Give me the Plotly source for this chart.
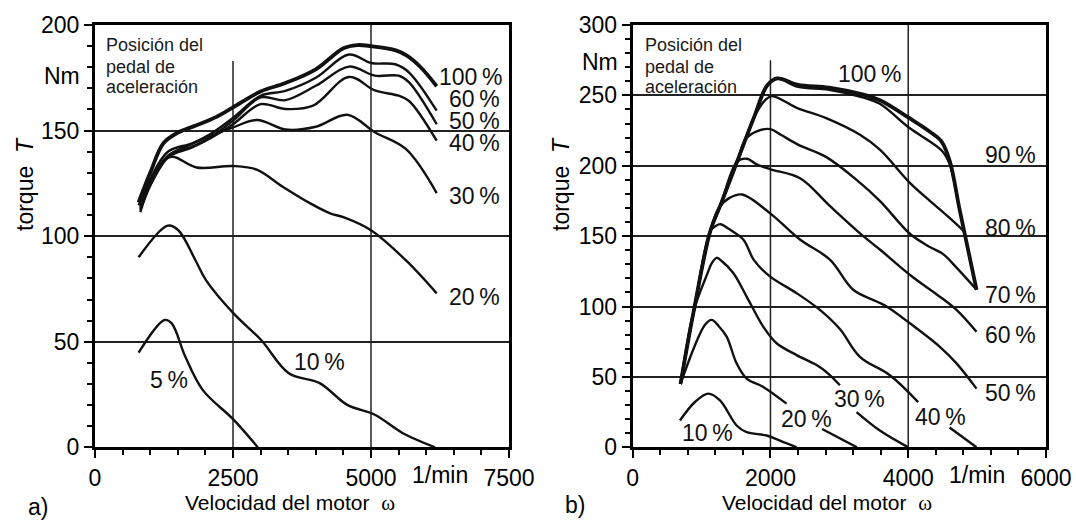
import plotly.graph_objects as go

# ---------------- chart a) ----------------
a_x_range = [0, 7500]
a_y_range = [0, 200]

a100_w = [790, 1000, 1240, 1500, 1840, 2200, 2500, 3000, 3450, 4000, 4500, 4750, 5000, 5450, 5650, 5900, 6190]
a100_t = [116, 130, 144, 149, 152.5, 156.5, 161, 168.5, 172.5, 179, 189, 190.5, 190, 188, 185.5, 180, 171]
a60_w = [790, 1000, 1320, 1760, 2100, 2500, 3000, 3450, 4000, 4600, 5000, 5440, 5690, 6190]
a60_t = [114.6, 127, 140, 144, 148.5, 156, 166.5, 168.8, 175, 186, 182, 181.4, 177.5, 159.4]
a50_w = [820, 1000, 1320, 1760, 2100, 2500, 3000, 3450, 4000, 4600, 5070, 5500, 5690, 6190]
a50_t = [113, 125, 138, 142.4, 147, 154.7, 165.7, 164.4, 171.2, 180.3, 176, 176, 172.8, 153]
a40_w = [820, 1000, 1320, 1760, 2100, 2500, 3000, 3450, 3950, 4600, 5070, 5500, 5690, 6190]
a40_t = [111.4, 124, 137.4, 142, 146.5, 153, 162.5, 160.2, 161.8, 175.4, 169, 166.5, 164, 145.2]
a30_w = [820, 1000, 1320, 1760, 2500, 2940, 3450, 4000, 4570, 5070, 5630, 6190]
a30_t = [113.8, 125, 138, 143.7, 151.5, 155, 150.5, 151.8, 157.5, 149.2, 141.3, 120.4]
a20_w = [820, 1000, 1320, 1440, 1840, 2500, 2930, 3400, 3900, 4260, 4500, 5000, 5630, 6190]
a20_t = [112.4, 124, 137, 137.5, 132.5, 133.2, 131.5, 123.4, 115.5, 110.8, 109, 102.8, 88.6, 72.9]
a10_w = [790, 1320, 1510, 1820, 2010, 2510, 3010, 3510, 4070, 4570, 5070, 5570, 6160]
a10_t = [90, 105, 102.8, 88.6, 79.2, 63.4, 50.8, 35.1, 30.4, 20.1, 15.4, 6.8, 0]
a5_w = [790, 1260, 1390, 1635, 1950, 2510, 2950]
a5_t = [44.8, 60.3, 58.7, 43, 27.2, 13.1, 0]

a_labels = ["100\u2009%", "60\u2009%", "50\u2009%", "40\u2009%", "30\u2009%", "20\u2009%", "10\u2009%", "5\u2009%"]
a_label_w = [6200, 6380, 6380, 6380, 6380, 6380, 3560, 960]
a_label_t = [175.4, 164.8, 154.6, 144.3, 119.1, 71.2, 40.4, 31.9]

# ---------------- chart b) ----------------
b_x_range = [0, 6000]
b_y_range = [0, 300]

b100_w = [694, 887, 1129, 1274, 1516, 1758, 1952, 2097, 2400, 2850, 3350, 3590, 4024, 4314, 4484, 4604, 4749, 4991]
b100_t = [45, 97, 154, 172, 203, 234, 257, 262, 257.5, 255.5, 250.5, 246.5, 233.6, 224.2, 217.2, 203.2, 168.1, 112]
b90_w = [694, 887, 1129, 1274, 1516, 1758, 1952, 2097, 2400, 2850, 3350, 3588, 4024, 4314, 4498, 4604, 4749, 4991]
b90_t = [45, 97, 154, 172, 203, 234, 257, 262, 256, 254, 248.5, 244, 226.6, 217.2, 210.2, 200.8, 168, 112]
b80_w = [694, 887, 1129, 1274, 1516, 1758, 1930, 2024, 2390, 2800, 3300, 3588, 4024, 4314, 4600, 4822]
b80_t = [45, 97, 154, 172, 203, 234, 247, 249.5, 241, 234, 222, 211.4, 187.9, 175.1, 163, 152.9]
b70_w = [694, 887, 1129, 1274, 1516, 1640, 1800, 2000, 2150, 2400, 2800, 3250, 3588, 4024, 4314, 4498, 4691, 4991]
b70_t = [45, 97, 154, 172, 203, 219, 224.5, 226, 222, 215, 206.5, 190, 175.1, 151.7, 142.3, 137.6, 128.2, 112]
b60_w = [694, 887, 1129, 1274, 1516, 1661, 1800, 2000, 2435, 2850, 3300, 3588, 4050, 4459, 4701, 4991]
b60_t = [45, 97, 154, 172, 203, 205, 201, 197.5, 191, 172, 152, 140.5, 121.5, 107, 97.6, 82.1]
b50_w = [694, 887, 1129, 1250, 1400, 1589, 2000, 2428, 2863, 3201, 3541, 3686, 4024, 4459, 4701, 4991]
b50_t = [45, 97, 154, 170, 177, 179.6, 166, 147.6, 133.3, 111.9, 103.6, 100, 88.1, 71.4, 59.6, 41.7]
b40_w = [694, 887, 1129, 1200, 1274, 1400, 1605, 1760, 1992, 2380, 2718, 3008, 3298, 3734, 4144]
b40_t = [45, 97, 154, 157, 158.5, 155, 147.6, 133, 121.4, 109.5, 97.6, 84, 64.3, 51.2, 32.1]
b40_end_w = [4600, 4991]
b40_end_t = [14, 0]
b30_w = [694, 887, 1081, 1150, 1219, 1300, 1460, 1654, 1895, 2089, 2380, 2670, 2838, 3008]
b30_t = [45, 97, 123, 131, 134.6, 132, 123.8, 107.1, 85.7, 73.9, 65.5, 58.4, 52.4, 44.1]
b30_end_w = [3250, 3588, 4000]
b30_end_t = [25, 11.9, 0]
b20_w = [694, 900, 1050, 1146, 1250, 1364, 1509, 1654, 1895, 2234]
b20_t = [45, 72, 87, 90.5, 86, 78.6, 59.6, 48.8, 42.9, 31]
b20_end_w = [2750, 3255]
b20_end_t = [13, 0]
b10_w = [686, 900, 1097, 1267, 1509, 1654, 1944, 2137, 2380]
b10_t = [19, 32, 38.1, 33.3, 15.5, 10.7, 8.4, 4.8, 0]

b_labels = ["100\u2009%", "90\u2009%", "80\u2009%", "70\u2009%", "60\u2009%", "50\u2009%", "40\u2009%", "30\u2009%", "20\u2009%", "10\u2009%"]
b_label_w = [2950, 5090, 5090, 5090, 5090, 5090, 4070, 2890, 2120, 680]
b_label_t = [265, 208, 156, 108.3, 79.8, 38.6, 21.3, 34.3, 20.1, 10.5]

FONT = "Liberation Sans, Arial, sans-serif"
INK = "#111111"

fig = go.Figure()


def curve(w, t, xa, ya, width=2.4):
    fig.add_trace(go.Scatter(x=w, y=t, xaxis=xa, yaxis=ya, mode="lines",
                             line=dict(color=INK, width=width, shape="spline", smoothing=1.0),
                             hoverinfo="skip", showlegend=False))


for w, t in [(a60_w, a60_t), (a50_w, a50_t), (a40_w, a40_t), (a30_w, a30_t),
             (a20_w, a20_t), (a10_w, a10_t), (a5_w, a5_t)]:
    curve(w, t, "x", "y")
curve(a100_w, a100_t, "x", "y", width=3.8)

for w, t in [(b90_w, b90_t), (b80_w, b80_t), (b70_w, b70_t), (b60_w, b60_t), (b50_w, b50_t),
             (b40_w, b40_t), (b40_end_w, b40_end_t), (b30_w, b30_t), (b30_end_w, b30_end_t),
             (b20_w, b20_t), (b20_end_w, b20_end_t), (b10_w, b10_t)]:
    curve(w, t, "x2", "y2")
curve(b100_w, b100_t, "x2", "y2", width=3.8)

ax_common = dict(showline=True, linecolor="black", linewidth=3, mirror=True,
                 ticks="outside", ticklen=8, tickwidth=2, tickcolor="black",
                 tickfont=dict(family=FONT, size=23, color="black"),
                 zeroline=False, fixedrange=True, automargin=False)

Y0, Y1 = 1 - 447.3 / 521, 1 - 25 / 521

fig.update_layout(
    template="none",
    width=1076, height=521, margin=dict(l=0, r=0, t=0, b=0, pad=0),
    paper_bgcolor="white", plot_bgcolor="white", showlegend=False,
    xaxis=dict(domain=[95 / 1076, 509 / 1076], anchor="y", range=a_x_range, tick0=0, dtick=2500,
               showgrid=False, minor=dict(ticks="outside", ticklen=5, tickwidth=1.5, tickcolor="black",
                                          tick0=0, dtick=500, showgrid=False), **ax_common),
    yaxis=dict(domain=[Y0, Y1], anchor="x", range=a_y_range, tick0=0, dtick=50,
               showgrid=True, gridcolor="#222222", gridwidth=1.5,
               minor=dict(ticks="outside", ticklen=5, tickwidth=1.5, tickcolor="black",
                          tick0=0, dtick=10, showgrid=False), **ax_common),
    xaxis2=dict(domain=[632.7 / 1076, 1046 / 1076], anchor="y2", range=b_x_range, tick0=0, dtick=2000,
                showgrid=False, minor=dict(ticks="outside", ticklen=5, tickwidth=1.5, tickcolor="black",
                                           tick0=0, dtick=400, showgrid=False), **ax_common),
    yaxis2=dict(domain=[Y0, Y1], anchor="x2", range=b_y_range, tick0=0, dtick=50,
                showgrid=True, gridcolor="#222222", gridwidth=1.5,
                minor=dict(ticks="outside", ticklen=5, tickwidth=1.5, tickcolor="black",
                           tick0=0, dtick=10, showgrid=False), **ax_common),
)

# vertical grid lines
grid = dict(color="#222222", width=1.5)
fig.add_shape(type="line", xref="x", yref="y", x0=2500, x1=2500, y0=0, y1=183, line=grid, layer="below")
fig.add_shape(type="line", xref="x", yref="y", x0=5000, x1=5000, y0=0, y1=200, line=grid, layer="below")
fig.add_shape(type="line", xref="x2", yref="y2", x0=2000, x1=2000, y0=0, y1=275, line=grid, layer="below")
fig.add_shape(type="line", xref="x2", yref="y2", x0=4000, x1=4000, y0=0, y1=300, line=grid, layer="below")

ann = []
for txt, w, t in zip(a_labels, a_label_w, a_label_t):
    ann.append(dict(text=txt, x=w, y=t, xref="x", yref="y", xanchor="left", yanchor="middle",
                    showarrow=False, font=dict(family=FONT, size=23, color=INK)))
for txt, w, t in zip(b_labels, b_label_w, b_label_t):
    ann.append(dict(text=txt, x=w, y=t, xref="x2", yref="y2", xanchor="left", yanchor="middle",
                    showarrow=False, font=dict(family=FONT, size=23, color=INK)))

# unit labels
ann.append(dict(text="Nm", x=82 / 1076, y=176, xref="paper", yref="y", xanchor="right", yanchor="middle",
                showarrow=False, font=dict(family=FONT, size=23, color="black")))
ann.append(dict(text="Nm", x=620 / 1076, y=274, xref="paper", yref="y2", xanchor="right", yanchor="middle",
                showarrow=False, font=dict(family=FONT, size=23, color="black")))
ann.append(dict(text="1/min", x=6250, y=1 - 475 / 521, xref="x", yref="paper", yanchor="middle",
                showarrow=False, font=dict(family=FONT, size=23, color="black")))
ann.append(dict(text="1/min", x=5000, y=1 - 475 / 521, xref="x2", yref="paper", yanchor="middle",
                showarrow=False, font=dict(family=FONT, size=23, color="black")))

# box text
for px0 in (104, 643):
    for line, py in zip(["Posición del", "pedal de", "aceleración"], [45, 66.7, 87]):
        ann.append(dict(text=line, x=px0 / 1076, y=1 - py / 521, xref="paper", yref="paper",
                        xanchor="left", yanchor="middle", showarrow=False,
                        font=dict(family=FONT, size=18, color="#1a1a1a")))

# axis titles
omega = "<span style='font-family:Liberation Serif, Times New Roman, serif'>ω</span>"
for cx in (290, 827):
    ann.append(dict(text="Velocidad del motor\u00a0\u00a0" + omega, x=cx / 1076, y=1 - 503 / 521,
                    xref="paper", yref="paper", xanchor="center", yanchor="middle", showarrow=False,
                    font=dict(family=FONT, size=21, color="black")))
for cx in (25, 561):
    ann.append(dict(text="torque\u00a0\u00a0<i>T</i>", x=cx / 1076, y=1 - 184 / 521, textangle=-90,
                    xref="paper", yref="paper", xanchor="center", yanchor="middle", showarrow=False,
                    font=dict(family=FONT, size=23, color="black")))
ann.append(dict(text="a)", x=38 / 1076, y=1 - 507 / 521, xref="paper", yref="paper", xanchor="center",
                yanchor="middle", showarrow=False, font=dict(family=FONT, size=23, color="black")))
ann.append(dict(text="b)", x=575 / 1076, y=1 - 505 / 521, xref="paper", yref="paper", xanchor="center",
                yanchor="middle", showarrow=False, font=dict(family=FONT, size=23, color="black")))

fig.update_layout(annotations=ann)
fig.write_html("out.html", config={"displayModeBar": False},
               post_script="document.body.style.margin='0px';")
